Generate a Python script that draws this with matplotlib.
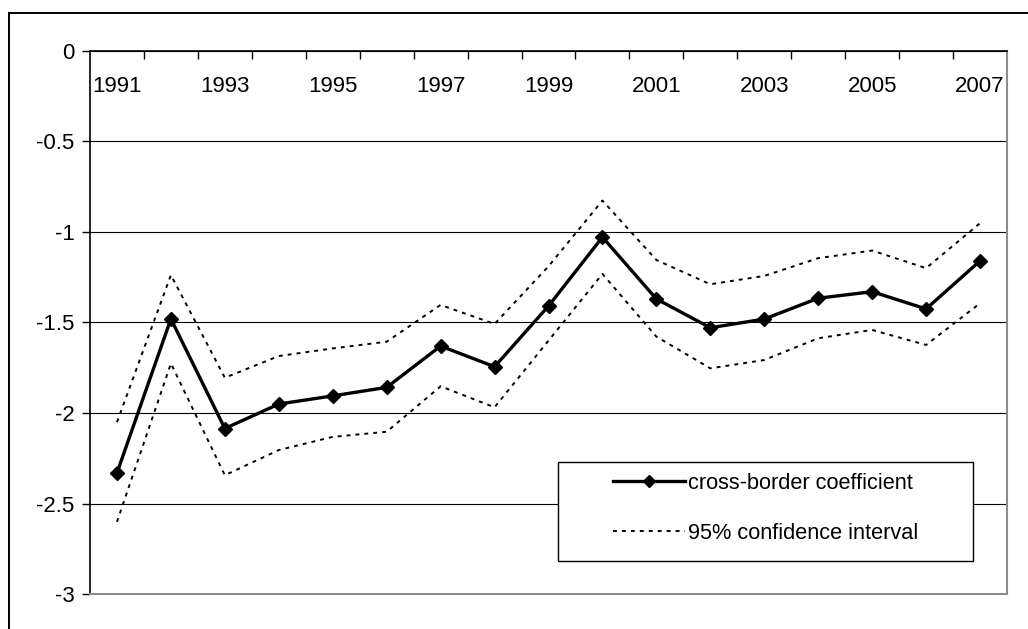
import matplotlib
matplotlib.use("Agg")
import matplotlib.pyplot as plt
from matplotlib.lines import Line2D
from matplotlib.patches import Rectangle

plt.rcParams['font.family'] = ['Liberation Sans', 'DejaVu Sans']

years = list(range(1991, 2008))
coef = [-2.33, -1.48, -2.085, -1.95, -1.905, -1.858, -1.63, -1.744, -1.409, -1.029,
        -1.37, -1.529, -1.481, -1.366, -1.33, -1.425, -1.16]
upper = [-2.05, -1.238, -1.805, -1.685, -1.643, -1.606, -1.403, -1.508, -1.19, -0.827,
         -1.155, -1.289, -1.243, -1.145, -1.103, -1.20, -0.952]
lower = [-2.60, -1.726, -2.343, -2.204, -2.131, -2.103, -1.852, -1.968, -1.60, -1.232,
         -1.578, -1.753, -1.707, -1.587, -1.541, -1.624, -1.394]
yticks = [0, -0.5, -1, -1.5, -2, -2.5, -3]
ytick_labels = ['0', '-0.5', '-1', '-1.5', '-2', '-2.5', '-3']
label_years = years[::2]

fig = plt.figure(figsize=(10.28, 6.29), dpi=100)
W, H = 1028, 629
ax = fig.add_axes([90 / W, 1 - 594.3 / H, 917 / W, 543.6 / H])

x = list(range(len(years)))
ci_style = dict(color='black', lw=1.4, linestyle=(0, (2, 2.6)))
ax.plot(x, upper, **ci_style, zorder=3)
ax.plot(x, lower, **ci_style, zorder=3)
ax.plot(x, coef, color='black', lw=2.4, marker='D', markersize=7.5, zorder=4)

ax.set_xlim(-0.5, len(years) - 0.5)
ax.set_ylim(-3, 0)

ax.set_yticks(yticks)
ax.set_yticklabels(ytick_labels)
ax.yaxis.grid(True, color='black', lw=0.8)
ax.set_axisbelow(True)
ax.tick_params(axis='y', direction='out', length=6, width=1, labelsize=16, pad=5)

ax.xaxis.set_ticks_position('top')
ax.set_xticks([i for i, yr in enumerate(years) if yr in label_years])
ax.set_xticklabels([str(y) for y in label_years])
ax.set_xticks([i - 0.5 for i in range(1, len(years))], minor=True)
ax.tick_params(axis='x', which='major', length=0, labelsize=16, pad=-33.5)
ax.tick_params(axis='x', which='minor', direction='in', length=6, width=1, top=True, bottom=False)

for s in ['left', 'top']:
    ax.spines[s].set_color('black')
    ax.spines[s].set_linewidth(1.2)
for s in ['right', 'bottom']:
    ax.spines[s].set_color('#8c8c8c')
    ax.spines[s].set_linewidth(1.5)

# legend box
x0 = (558 - 90) / 917
x1 = (973 - 90) / 917
y1 = (594.3 - 462) / 543.6
y0 = (594.3 - 561) / 543.6
ax.add_patch(Rectangle((x0, y0), x1 - x0, y1 - y0, transform=ax.transAxes,
                       facecolor='white', edgecolor='black', lw=1.0, zorder=5))
handles = [Line2D([], [], color='black', lw=2.4, marker='D', markersize=6.5),
           Line2D([], [], **ci_style)]
leg = ax.legend(handles, ['cross-border coefficient', '95% confidence interval'],
                loc='center', bbox_to_anchor=((x0 + x1) / 2, (y0 + y1) / 2 + 0.006),
                frameon=False, fontsize=15.7, handlelength=3.3, handletextpad=0.15,
                labelspacing=1.35, borderpad=0)
leg.set_zorder(6)

# outer chart frame
fig.add_artist(Line2D([8.5 / W, 1.0], [1 - 12.5 / H, 1 - 12.5 / H], color='black', lw=1.4,
                      transform=fig.transFigure))
fig.add_artist(Line2D([8.5 / W, 8.5 / W], [0, 1 - 12.5 / H], color='black', lw=1.4,
                      transform=fig.transFigure))

fig.savefig('out.png', dpi=100)
